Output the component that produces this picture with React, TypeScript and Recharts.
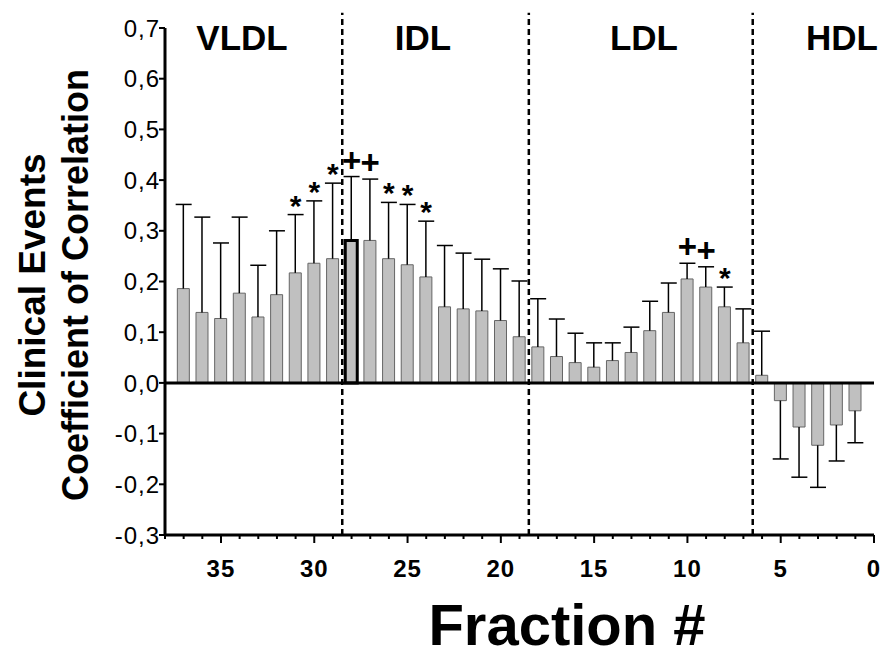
import {
  ComposedChart,
  Bar,
  Cell,
  ErrorBar,
  Scatter,
  LabelList,
  XAxis,
  YAxis,
  ReferenceLine,
} from "recharts"

// fraction number, from VLDL (37) down to HDL (1)
const fractions = [
  37, 36, 35, 34, 33, 32, 31, 30, 29, 28, 27, 26, 25, 24, 23, 22, 21, 20, 19,
  18, 17, 16, 15, 14, 13, 12, 11, 10, 9, 8, 7, 6, 5, 4, 3, 2, 1,
]

// correlation coefficient per fraction
const coefficients = [
  0.186, 0.139, 0.127, 0.177, 0.13, 0.174, 0.217, 0.236, 0.245, 0.281, 0.281,
  0.245, 0.233, 0.209, 0.15, 0.146, 0.142, 0.123, 0.091, 0.071, 0.052, 0.04,
  0.031, 0.044, 0.06, 0.103, 0.139, 0.205, 0.189, 0.15, 0.079, 0.015, -0.035,
  -0.087, -0.123, -0.083, -0.055,
]

// where the error whisker ends
const whiskerEnds = [
  0.352, 0.327, 0.276, 0.327, 0.232, 0.3, 0.332, 0.359, 0.394, 0.407, 0.402,
  0.356, 0.352, 0.319, 0.271, 0.256, 0.244, 0.225, 0.201, 0.166, 0.126, 0.098,
  0.079, 0.079, 0.11, 0.161, 0.197, 0.236, 0.229, 0.189, 0.146, 0.102, -0.15,
  -0.186, -0.206, -0.154, -0.118,
]

const significance = [
  "", "", "", "", "", "", "*", "*", "*", "+", "+", "*", "*", "*", "", "", "",
  "", "", "", "", "", "", "", "", "", "", "+", "+", "*", "", "", "", "", "",
  "", "",
]

const yTicks = [-0.3, -0.2, -0.1, 0, 0.1, 0.2, 0.3, 0.4, 0.5, 0.6, 0.7]
const xTicks = Array.from({ length: 39 }, (_, i) => i)
const dividers = [28.5, 18.5, 6.5]
const highlighted = 28

const rows = fractions.map((f, i) => {
  const r = coefficients[i]
  const end = whiskerEnds[i]
  return {
    f,
    r,
    end,
    err: r >= 0 ? [0, end - r] : [r - end, 0],
    sig: significance[i],
  }
})

const FONT = "'Liberation Sans', Arial, sans-serif"

function FractionTick(props: any) {
  const { x, y, payload } = props
  const major = payload.value % 5 === 0
  return (
    <g>
      <line
        x1={x}
        x2={x}
        y1={y}
        y2={y + (major ? 8 : 4)}
        stroke="#000"
        strokeWidth={2}
      />
      {major && (
        <text
          x={x}
          y={y + 42}
          textAnchor="middle"
          fontFamily={FONT}
          fontWeight="bold"
          fontSize={24}
          letterSpacing={1}
          fill="#000"
        >
          {payload.value}
        </text>
      )}
    </g>
  )
}

function CoefTick(props: any) {
  const { x, y, payload } = props
  return (
    <text
      x={x + 1}
      y={y}
      dy="0.36em"
      textAnchor="end"
      fontFamily={FONT}
      fontSize={24}
      letterSpacing={1}
      fill="#000"
    >
      {payload.value.toFixed(1).replace(".", ",")}
    </text>
  )
}

function Cap(props: any) {
  const { cx, cy } = props
  return (
    <line
      x1={cx - 8}
      x2={cx + 8}
      y1={cy}
      y2={cy}
      stroke="#000"
      strokeWidth={1.5}
    />
  )
}

function SigLabel(props: any) {
  const { x, y, width, height, value } = props
  if (!value) return null
  const cx = x + (width || 0) / 2
  const cy = y + (height || 0) / 2
  const star = value === "*"
  return (
    <text
      x={cx}
      y={star ? cy + 1 : cy - 5}
      textAnchor="middle"
      fontFamily={FONT}
      fontWeight="bold"
      fontSize={star ? 30 : 33}
      fill="#000"
    >
      {value}
    </text>
  )
}

function App() {
  return (
    <div
      style={{
        position: "absolute",
        left: 0,
        top: 0,
        width: 885,
        height: 660,
        background: "#fff",
      }}
    >
      <ComposedChart
        width={885}
        height={660}
        data={rows}
        margin={{ top: 28, right: 11, bottom: 95, left: 95 }}
      >
        <XAxis
          dataKey="f"
          type="number"
          domain={[0, 38]}
          reversed
          ticks={xTicks}
          interval={0}
          height={30}
          tickSize={0}
          tickMargin={0}
          tickLine={false}
          tick={<FractionTick />}
          axisLine={{ stroke: "#000", strokeWidth: 3 }}
        />
        <YAxis
          type="number"
          domain={[-0.3, 0.7]}
          ticks={yTicks}
          interval={0}
          width={70}
          tickSize={6}
          tickMargin={0}
          tick={<CoefTick />}
          tickLine={{ stroke: "#000", strokeWidth: 2 }}
          axisLine={{ stroke: "#000", strokeWidth: 3 }}
        />

        {dividers.map((d) => (
          <ReferenceLine
            key={d}
            segment={[
              { x: d, y: -0.3 },
              { x: d, y: 0.73 },
            ]}
            ifOverflow="visible"
            stroke="#000"
            strokeWidth={2.5}
            strokeDasharray="6 4"
          />
        ))}

        <Bar
          dataKey="r"
          barSize={12}
          fill="#c0c0c0"
          stroke="#666"
          strokeWidth={1}
          isAnimationActive={false}
        >
          {rows.map((row) => (
            <Cell
              key={row.f}
              stroke={row.f === highlighted ? "#000" : "#666"}
              strokeWidth={row.f === highlighted ? 3 : 1}
            />
          ))}
          <ErrorBar
            dataKey="err"
            direction="y"
            width={0}
            stroke="#000"
            strokeWidth={1.5}
            isAnimationActive={false}
          />
        </Bar>

        <ReferenceLine y={0} stroke="#000" strokeWidth={3} />

        <Scatter dataKey="end" shape={<Cap />} isAnimationActive={false}>
          <LabelList dataKey="sig" content={<SigLabel />} />
        </Scatter>
      </ComposedChart>

      <svg
        width={885}
        height={660}
        style={{ position: "absolute", left: 0, top: 0, pointerEvents: "none" }}
        fontFamily={FONT}
        fontWeight="bold"
        fill="#000"
      >
        <text x={242} y={50} fontSize={35} textAnchor="middle">VLDL</text>
        <text x={423} y={50} fontSize={35} textAnchor="middle">IDL</text>
        <text x={644} y={50} fontSize={35} textAnchor="middle">LDL</text>
        <text x={842} y={50} fontSize={35} textAnchor="middle">HDL</text>
        <text x={567} y={645} fontSize={58} textAnchor="middle">
          Fraction #
        </text>
        <text
          x={45}
          y={285}
          fontSize={37}
          textAnchor="middle"
          transform="rotate(-90 45 285)"
        >
          Clinical Events
        </text>
        <text
          x={88}
          y={285}
          fontSize={36}
          textAnchor="middle"
          transform="rotate(-90 88 285)"
        >
          Coefficient of Correlation
        </text>
      </svg>
    </div>
  )
}

export default App
